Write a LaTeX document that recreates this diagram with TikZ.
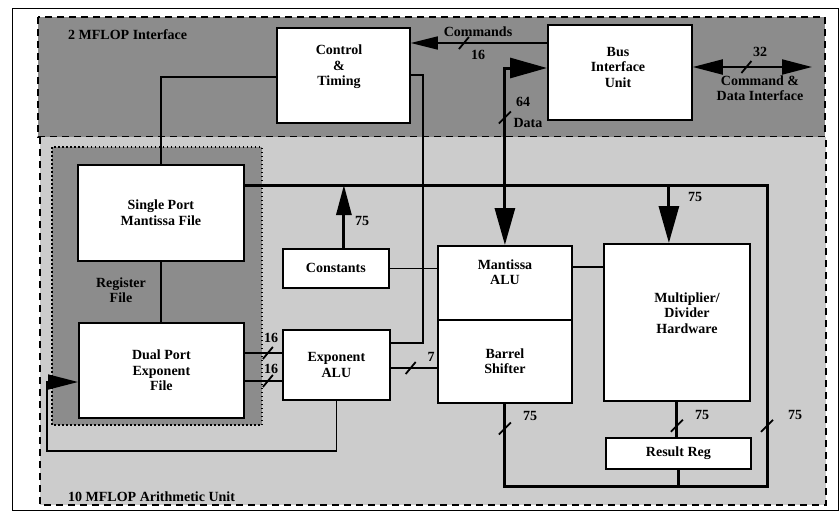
\documentclass[tikz,border=0pt]{standalone}
\usepackage{fontspec}
\setmainfont{Liberation Serif}
\usetikzlibrary{arrows.meta,calc}
\definecolor{darkreg}{gray}{0.55}
\definecolor{lightreg}{gray}{0.80}
\begin{document}
\begin{tikzpicture}[x=1pt,y=-1pt,
  lbl/.style={font=\bfseries\fontsize{14}{15.5}\selectfont},
  box/.style={draw,line width=1.8pt,fill=white,anchor=north west,inner sep=0pt,align=center,lbl},
  txt/.style={align=center,inner sep=0pt,lbl},
  conn/.style={line width=1.5pt},
  bus/.style={line width=3pt},
  slash/.style={line width=1.8pt},
  region/.style={line width=2pt,dash pattern=on 7pt off 5pt},
  regfile/.style={line width=1.6pt,dash pattern=on 1.5pt off 2.5pt},
  smT/.tip={Triangle[length=27pt,width=13pt]},
  midT/.tip={Triangle[length=30pt,width=15pt]},
  bigT/.tip={Triangle[length=37pt,width=20pt]}
]
\useasboundingbox (0,0) rectangle (839,512);
\fill[white] (0,0) rectangle (839,512);
% frame and regions
\draw[line width=1pt] (12,8) rectangle (838.5,510.5);
\fill[darkreg] (38,17) rectangle (825,137);
\draw[region] (38,17) rectangle (825,137);
\fill[lightreg] (40,137) rectangle (826,505);
\draw[region] (40,137) -- (40,505) -- (826,505) -- (826,137);
\fill[darkreg] (52,147) rectangle (262,425);
\draw[regfile] (52,147) rectangle (262,425);

% boxes
\node[box,minimum width=133pt,minimum height=95pt] (ctl) at (276,27) {};
\node[box,minimum width=144pt,minimum height=95pt] (biu) at (547,24) {};
\node[box,minimum width=166pt,minimum height=96pt] (spm) at (77,164) {Single Port\\Mantissa File};
\node[box,minimum width=165pt,minimum height=95pt] (dpe) at (78,322) {Dual Port\\Exponent\\File};
\node[box,minimum width=106pt,minimum height=39pt] (const) at (282,248) {Constants};
\node[box,minimum width=107pt,minimum height=70pt] (expalu) at (282,329) {Exponent\\ALU};
\node[box,minimum width=134pt,minimum height=74pt] (malu) at (437,245) {};
\node[box,minimum width=134pt,minimum height=83pt] (bsh) at (437,319) {Barrel\\Shifter};
\node[box,minimum width=146pt,minimum height=157pt] (mul) at (603,243) {};
\node[box,minimum width=145pt,minimum height=31pt] (res) at (605,437) {Result Reg};

% texts placed inside boxes
\node[txt] (tctl) at (339,67) {Control\\\&\\Timing};
\node[txt] (tbiu) at (618,67) {Bus\\Interface\\Unit};
\node[txt] (tmalu) at (505,272) {Mantissa\\ALU};
\node[txt] (tmul) at (687,313) {Multiplier/\\Divider\\Hardware};

% region labels
\node[txt,anchor=west] (lblI) at (68,35) {2 MFLOP Interface};
\node[txt,anchor=west] (lblA) at (68,497) {10 MFLOP Arithmetic Unit};
\node[txt] (lblR) at (121,290) {Register\\File};

% commands
\draw[conn,-{smT}] (biu.west |- 0,43) -- coordinate[pos=0.61] (tc) (ctl.east |- 0,43);
\draw[slash] ($(tc)+(-5,6)$) -- ($(tc)+(5,-6)$);
\node[txt] (lcmd) at (478,32) {Commands};
\node[txt] (l16c) at (478,55) {16};

% control to exponent ALU and single port
\draw[conn] (ctl.east |- 0,75) -- (423,75) |- (expalu.east |- 0,343);
\draw[conn] (ctl.west |- 0,77) -| (spm.north);
\draw[conn] (spm.south) -- (dpe.north -| spm.south);

% dual port to exponent ALU
\draw[conn] (dpe.east |- 0,353) -- coordinate[pos=0.62] (ta) (expalu.west |- 0,353);
\draw[slash] ($(ta)+(-5,6)$) -- ($(ta)+(5,-6)$);
\draw[conn] (dpe.east |- 0,381) -- coordinate[pos=0.62] (tb) (expalu.west |- 0,381);
\draw[slash] ($(tb)+(-5,6)$) -- ($(tb)+(5,-6)$);
\node[txt] (l16a) at (271,338) {16};
\node[txt] (l16b) at (271,369) {16};

% exponent ALU to barrel shifter
\draw[conn] (expalu.east |- 0,368) -- coordinate[pos=0.43] (t7) (bsh.west |- 0,368);
\draw[slash] ($(t7)+(-5,6)$) -- ($(t7)+(5,-6)$);
\node[txt] (l7) at (431,357) {7};

% feedback to dual port
\draw[conn,-{midT}] (expalu.south) |- (47,451) |- (dpe.west |- 0,382);

% constants
\draw[bus,-{midT}] ($(const.north)+(8,0)$) -- ($(const.north)+(8,-63)$);
\node[txt] (l75c) at (362,221) {75};
\draw[conn] (const.east) -- (const.east -| malu.west);

% mantissa ALU to multiplier
\draw[conn] (malu.east |- 0,267) -- (mul.west |- 0,267);

% main bus loop
\draw[bus] (spm.east |- 0,185) -- (767,185) -- coordinate[pos=0.8] (tR) (767,486)
  -- (bsh.south |- 0,486) -- coordinate[pos=0.7] (tB) (bsh.south);
\draw[slash] ($(tR)+(-6,6)$) -- ($(tR)+(6,-6)$);
\draw[slash] ($(tB)+(-6,6)$) -- ($(tB)+(6,-6)$);
\node[txt] (l75r) at (795,415) {75};
\node[txt] (l75b) at (530,416) {75};

% bus to multiplier
\draw[bus,-{bigT}] ($(mul.north)+(-8,-58)$) -- ($(mul.north)+(-8,0)$);
\node[txt] (l75m) at (695,197) {75};

% multiplier to result reg
\draw[bus] (mul.south) -- coordinate[pos=0.68] (tM) (mul.south |- res.north);
\draw[slash] ($(tM)+(-6,6)$) -- ($(tM)+(6,-6)$);
\node[txt] (l75x) at (702,415) {75};
\draw[bus] (res.south) -- (res.south |- 0,486);

% data bus
\draw[bus,{bigT}-{bigT}] (biu.west |- 0,68) -| coordinate[pos=0.64] (td) (malu.north);
\draw[slash] ($(td)+(-6,6)$) -- ($(td)+(6,-6)$);
\node[txt] (l64) at (523,102) {64};
\node[txt] (ldata) at (528,123) {Data};

% command & data interface
\draw[line width=2pt,{midT}-{midT}] (biu.east |- 0,67) -- coordinate[pos=0.45] (tx) (812,67);
\draw[slash] ($(tx)+(-5,6)$) -- ($(tx)+(5,-6)$);
\node[txt] (l32) at (760,52) {32};
\node[txt] (lcdi) at (760,88) {Command \&\\Data Interface};
\end{tikzpicture}
\end{document}
